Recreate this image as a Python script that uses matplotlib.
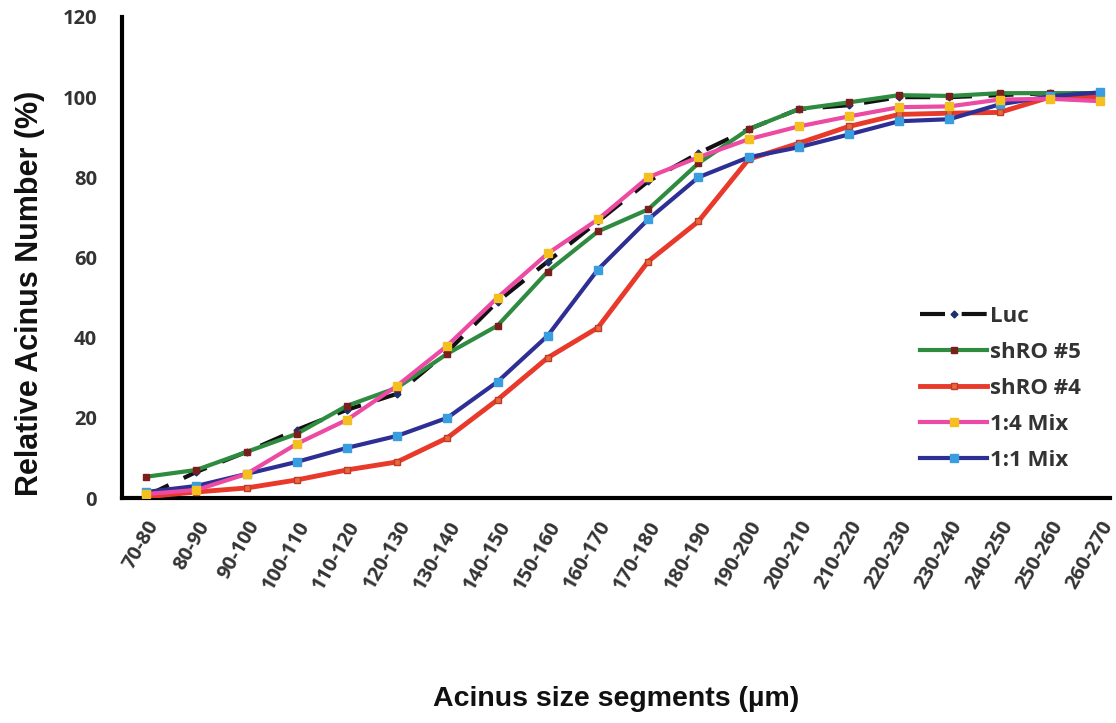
import matplotlib
matplotlib.use("Agg")
import matplotlib.pyplot as plt
import numpy as np

categories = ["70-80", "80-90", "90-100", "100-110", "110-120", "120-130", "130-140",
              "140-150", "150-160", "160-170", "170-180", "180-190", "190-200", "200-210",
              "210-220", "220-230", "230-240", "240-250", "250-260", "260-270"]

luc = [0.5, 6.5, 11.5, 17, 22, 26, 36.5, 49, 59, 69, 79, 86, 92, 97, 98, 100, 100, 100.5, 101, 101]
shro5 = [5.3, 7, 11.5, 16, 23, 27.5, 36, 43, 56.5, 66.5, 72, 83.5, 92, 97, 98.7, 100.5, 100.3, 101, 101, 101]
shro4 = [0.3, 1.5, 2.5, 4.5, 7, 9, 15, 24.5, 35, 42.5, 59, 69, 84.5, 88.5, 92.7, 95.7, 96, 96.2, 100, 100]
mix14 = [1, 2, 6, 13.5, 19.5, 28, 38, 50, 61, 69.5, 80, 85, 89.5, 92.7, 95.2, 97.5, 97.7, 99.4, 99.6, 99]
mix11 = [1.5, 3, 6, 9, 12.5, 15.5, 20, 29, 40.5, 57, 69.5, 80, 85, 87.5, 90.7, 94, 94.5, 98.2, 100.2, 101.2]

x = np.arange(len(categories))

fig = plt.figure(figsize=(11.16, 7.23), dpi=100)
ax = fig.add_axes([122/1116, 1-498/723, 988/1116, 481/723])

ax.plot(x, shro5, color="#2e8b3f", lw=3, marker="s", ms=4.5, mfc="#7a1e1e", mec="#7a1e1e", label="shRO #5", zorder=3)
ax.plot(x, shro4, color="#e8392b", lw=3.5, marker="s", ms=4.5, mfc="#e86a3a", mec="#c0392b", label="shRO #4", zorder=3)
ax.plot(x, mix11, color="#2e2f94", lw=3, marker="s", ms=5.5, mfc="#3a9de0", mec="#3a9de0", label="1:1 Mix", zorder=3)
ax.plot(x, mix14, color="#ec4aa3", lw=3, marker="s", ms=5.5, mfc="#f4c020", mec="#f4c020", label="1:4 Mix", zorder=4)
ax.plot(x, luc, color="#111111", lw=3, ls=(0, (6, 4)), marker="D", ms=3.5, mfc="#1f2f6a", mec="#1f2f6a", label="Luc", zorder=2)

ax.set_xlim(-0.48, 19.2)
ax.set_ylim(0, 120)
ax.set_yticks(np.arange(0, 121, 20))
ax.set_xticks(x)
ax.set_xticklabels(categories, rotation=60, ha="right", va="top", rotation_mode="anchor",
                   fontsize=14.5, fontweight="bold", color="#333333", family="Open Sans")
for lab in ax.get_yticklabels():
    lab.set_fontsize(14.5)
    lab.set_fontweight("bold")
    lab.set_color("#333333")
    lab.set_family("Open Sans")
ax.tick_params(axis="both", length=0)
ax.tick_params(axis="y", pad=18)
ax.tick_params(axis="x", pad=14)

for s in ["top", "right"]:
    ax.spines[s].set_visible(False)
for s in ["left", "bottom"]:
    ax.spines[s].set_linewidth(3)
    ax.spines[s].set_color("black")

ax.set_xlabel("Acinus size segments (µm)", fontsize=20.5, fontweight="bold", family="Liberation Sans", color="#111111")
ax.xaxis.set_label_coords(0.5, -0.39)
ax.set_ylabel("Relative Acinus Number (%)", fontsize=22, fontweight="bold", family="Liberation Sans", color="#111111")
ax.yaxis.set_label_coords(-0.078, 0.425)

handles, labels = ax.get_legend_handles_labels()
order = [labels.index(l) for l in ["Luc", "shRO #5", "shRO #4", "1:4 Mix", "1:1 Mix"]]
leg = ax.legend([handles[i] for i in order], [labels[i] for i in order],
                loc="upper left", bbox_to_anchor=(0.808, 0.40), frameon=False,
                borderpad=0, borderaxespad=0,
                handlelength=3.0, handletextpad=0.15, labelspacing=0.68,
                prop={"family": "Open Sans", "weight": "bold", "size": 16})
for t in leg.get_texts():
    t.set_color("#333333")

fig.savefig("out.png", dpi=100)
